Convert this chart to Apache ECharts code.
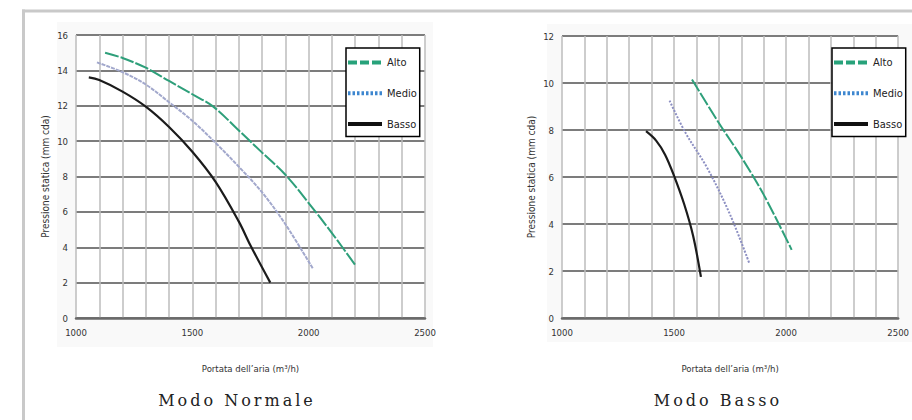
<!DOCTYPE html>
<html>
<head>
<meta charset="utf-8">
<script src="https://cdn.jsdelivr.net/npm/echarts@6/dist/echarts.min.js"></script>
<style>
  html, body { margin: 0; padding: 0; background: #fff; }
  #chart { width: 912px; height: 420px; }
  /* spaced-out serif captions under each panel */
  #chart text[style*="Serif"], #chart text[font-family*="Serif"] { letter-spacing: 3px; }
</style>
</head>
<body>
<div id="chart"></div>
<script>
// Fan curves: static pressure (mm cda) vs air flow (m³/h)
const seriesNames = ['Alto', 'Medio', 'Basso'];

// Modo Normale
const altoNormale = [[1125, 15.0], [1200, 14.7], [1300, 14.15], [1400, 13.4], [1500, 12.65], [1590, 11.95], [1700, 10.6], [1800, 9.35], [1900, 8.1], [2000, 6.5], [2100, 4.8], [2200, 3.0]];
const medioNormale = [[1090, 14.45], [1200, 13.9], [1300, 13.2], [1400, 12.2], [1500, 11.15], [1600, 9.9], [1700, 8.55], [1800, 7.1], [1900, 5.3], [2020, 2.75]];
const bassoNormale = [[1055, 13.6], [1100, 13.45], [1200, 12.8], [1300, 11.95], [1400, 10.8], [1500, 9.4], [1600, 7.7], [1700, 5.45], [1750, 4.1], [1835, 2.0]];

// Modo Basso
const altoBasso = [[1580, 10.15], [1700, 8.3], [1800, 6.85], [1900, 5.25], [2025, 2.9]];
const medioBasso = [[1480, 9.25], [1550, 7.9], [1650, 6.35], [1750, 4.4], [1835, 2.35]];
const bassoBasso = [[1375, 7.95], [1420, 7.55], [1460, 6.95], [1500, 6.05], [1545, 4.85], [1585, 3.5], [1620, 1.75]];

// Axis ranges and labels
const xMin = 1000, xMax = 2500, xGridStep = 100, xLabelStep = 500;
const yMaxNormale = 16, yMaxBasso = 12, yStep = 2;
const xAxisTitle = 'Portata dell\u2019aria (m\u00b3/h)';
const yAxisTitle = 'Pressione statica (mm cda)';
const panelTitles = ['Modo Normale', 'Modo Basso'];

const narrow = "'Liberation Sans Narrow', 'DejaVu Sans Condensed', 'Roboto Condensed', sans-serif";
const serif = "'DejaVu Serif', 'Liberation Serif', serif";

const colAlto = '#2e9f7a';
const colMedio = '#a2a8cc';
const colMedioB = '#8c8fc2';
const colBasso = '#1b1b1b';

function xAxisFor(gridIndex) {
  return {
    type: 'value', gridIndex, min: xMin, max: xMax, interval: xGridStep,
    name: xAxisTitle, nameLocation: 'middle', nameGap: 45,
    nameTextStyle: { fontFamily: narrow, fontSize: 9.5, color: '#333' },
    axisLine: { show: true, lineStyle: { color: '#6a6a6a', width: 2.5 } },
    axisTick: { show: false },
    axisLabel: {
      margin: 9, fontFamily: narrow, fontSize: 9.5, color: '#333',
      formatter: v => (v % xLabelStep === 0 ? String(v) : '')
    },
    splitLine: { show: true, lineStyle: { color: '#bcbcbc', width: 1.5 } }
  };
}

function yAxisFor(gridIndex, max) {
  return {
    type: 'value', gridIndex, min: 0, max, interval: yStep,
    name: yAxisTitle, nameLocation: 'middle', nameGap: 26,
    nameTextStyle: { fontFamily: narrow, fontSize: 10, color: '#333' },
    axisLine: { show: false },
    axisTick: { show: false },
    axisLabel: { margin: 8, fontFamily: narrow, fontSize: 9.5, color: '#333' },
    splitLine: { show: true, lineStyle: { color: '#7c7c7c', width: 2 } }
  };
}

function curve(name, data, idx, color, width, type) {
  return {
    name, type: 'line', xAxisIndex: idx, yAxisIndex: idx, data,
    symbol: 'none', smooth: 0.35, z: 3,
    lineStyle: { color, width, type },
    itemStyle: { color }
  };
}

// legend icons are plain line samples (no marker dot)
const noMarker = { color: 'rgba(0,0,0,0)', borderWidth: 0, opacity: 0 };

function legendFor(left) {
  return {
    left, top: 48, orient: 'vertical',
    padding: [9, 3, 7, 0], itemWidth: 34, itemHeight: 14, itemGap: 19.5,
    borderColor: '#000', borderWidth: 1.5, backgroundColor: '#fff',
    selectedMode: false,
    textStyle: { fontFamily: narrow, fontSize: 11, color: '#222' },
    data: [
      { name: seriesNames[0], itemStyle: noMarker, lineStyle: { color: '#27a27a', width: 4, type: [9, 3] } },
      { name: seriesNames[1], itemStyle: noMarker, lineStyle: { color: '#3d86cf', width: 4, type: [2.5, 2] } },
      { name: seriesNames[2], itemStyle: noMarker, lineStyle: { color: '#111', width: 4, type: 'solid' } }
    ]
  };
}

const chart = echarts.init(document.getElementById('chart'), null, { renderer: 'svg' });
chart.setOption({
  animation: false,
  backgroundColor: '#fff',
  grid: [
    { left: 76, top: 35, width: 349, height: 283, show: true, backgroundColor: '#fff', borderWidth: 0 },
    { left: 562, top: 36, width: 348, height: 282, show: true, backgroundColor: '#fff', borderWidth: 0 }
  ],
  xAxis: [xAxisFor(0), xAxisFor(1)],
  yAxis: [yAxisFor(0, yMaxNormale), yAxisFor(1, yMaxBasso)],
  legend: [legendFor(346), legendFor(832)],
  series: [
    curve(seriesNames[0], altoNormale, 0, colAlto, 2, [14, 2]),
    curve(seriesNames[1], medioNormale, 0, colMedio, 2, [4, 1]),
    curve(seriesNames[2], bassoNormale, 0, colBasso, 2.2, 'solid'),
    curve(seriesNames[0], altoBasso, 1, colAlto, 2, [14, 2]),
    curve(seriesNames[1], medioBasso, 1, colMedioB, 2, [2, 1.5]),
    curve(seriesNames[2], bassoBasso, 1, colBasso, 2.2, 'solid')
  ],
  graphic: [
    // faint panels behind each plot
    { type: 'rect', z: -5, shape: { x: 57, y: 22, width: 376, height: 325 }, style: { fill: '#f9f9f9' } },
    { type: 'rect', z: -5, shape: { x: 547, y: 24, width: 365, height: 318 }, style: { fill: '#f9f9f9' } },
    // outer frame
    { type: 'rect', z: 10, shape: { x: 22, y: 9.5, width: 890, height: 3 }, style: { fill: '#c9c9c9' } },
    { type: 'rect', z: 10, shape: { x: 22, y: 9.5, width: 3, height: 411 }, style: { fill: '#c9c9c9' } },
    // panel captions
    { type: 'text', z: 10, x: 237, y: 400, style: { text: panelTitles[0], font: "16px " + serif, fill: '#222', align: 'center', verticalAlign: 'middle' } },
    { type: 'text', z: 10, x: 718, y: 400, style: { text: panelTitles[1], font: "16px " + serif, fill: '#222', align: 'center', verticalAlign: 'middle' } }
  ]
});
</script>
</body>
</html>
